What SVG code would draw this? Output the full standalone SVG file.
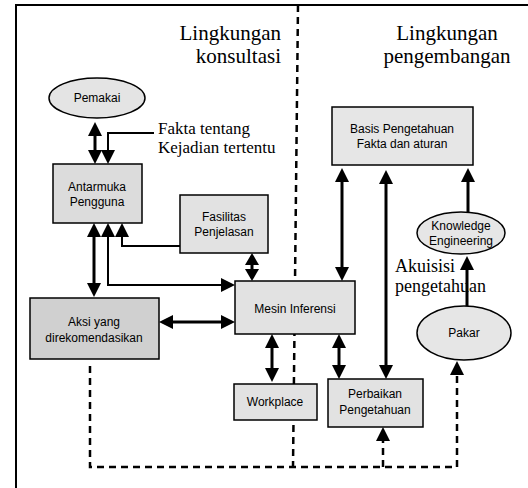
<svg xmlns="http://www.w3.org/2000/svg" width="528" height="488" viewBox="0 0 528 488">
<defs>
<marker id="ah" markerUnits="userSpaceOnUse" markerWidth="14" markerHeight="14" refX="10" refY="7" orient="auto-start-reverse"><path d="M0,0 L14,7 L0,14 z" fill="#000"/></marker>
<marker id="ahs" markerUnits="userSpaceOnUse" markerWidth="12" markerHeight="14" refX="9" refY="7" orient="auto-start-reverse"><path d="M0,0 L12,7 L0,14 z" fill="#000"/></marker>
<style>
.box{stroke:#000;stroke-width:1.5}
.lbl{font-family:"Liberation Sans",Arial,sans-serif;font-size:12px;text-anchor:middle;fill:#000}
.ser{font-family:"Liberation Serif","Times New Roman",serif;fill:#000}
.thick{fill:none;stroke:#000;stroke-width:3}
.thin{fill:none;stroke:#000;stroke-width:2}
.dash{fill:none;stroke:#000;stroke-width:2.5;stroke-dasharray:7 5}
</style>
</defs>
<rect width="528" height="488" fill="#fff"/>
<path d="M16,488 V5 H528" fill="none" stroke="#000" stroke-width="2"/>
<g id="divider"><path class="dash" d="M298,5 L293,467" stroke-width="3" stroke-dasharray="6 5"/></g>
<g id="headings">
<text class="ser" x="281" y="40" font-size="21" text-anchor="end">Lingkungan</text>
<text class="ser" x="281" y="63" font-size="21" text-anchor="end">konsultasi</text>
<text class="ser" x="447" y="40" font-size="21" text-anchor="middle">Lingkungan</text>
<text class="ser" x="447" y="63" font-size="21" text-anchor="middle">pengembangan</text>
</g>
<g id="connectors">
<path class="thick" d="M95,126 V160" marker-start="url(#ah)" marker-end="url(#ah)"/>
<path class="thin" d="M154,133 H108 V160" marker-end="url(#ah)"/>
<path class="thin" d="M180,246 H122 V227" marker-end="url(#ah)"/>
<path class="thick" d="M94,227 V293" marker-start="url(#ah)" marker-end="url(#ah)"/>
<path class="thin" d="M108,227 V285 H231" marker-start="url(#ah)" marker-end="url(#ah)"/>
<path class="thick" d="M252,256 V278" marker-start="url(#ahs)" marker-end="url(#ahs)"/>
<path class="thick" d="M163,322 H231" marker-start="url(#ah)" marker-end="url(#ah)"/>
<path class="thick" d="M342,172 V277" marker-start="url(#ah)" marker-end="url(#ah)"/>
<path class="thick" d="M386,174 V375" marker-start="url(#ah)" marker-end="url(#ah)"/>
<path class="thick" d="M468,212 V172" marker-end="url(#ah)"/>
<path class="thick" d="M467,306 V260" marker-end="url(#ah)"/>
<path class="thick" d="M272,338 V378" marker-start="url(#ah)" marker-end="url(#ah)"/>
<path class="thick" d="M339,338 V375" marker-start="url(#ah)" marker-end="url(#ah)"/>
<path class="dash" d="M90,366 V467 H457 V365" marker-end="url(#ah)"/>
<path class="dash" d="M383,467 V431" marker-end="url(#ah)"/>
</g>
<g id="pemakai"><ellipse class="box" cx="97" cy="98" rx="48" ry="20" fill="#e4e4e4"/><text class="lbl" x="97" y="102">Pemakai</text></g>
<g id="fakta"><text class="ser" x="158" y="134" font-size="17">Fakta tentang</text><text class="ser" x="158" y="153" font-size="17">Kejadian tertentu</text></g>
<g id="antarmuka"><rect class="box" x="53" y="164" width="89" height="59" fill="#dcdcdc"/><text class="lbl" x="97" y="191">Antarmuka</text><text class="lbl" x="97" y="206">Pengguna</text></g>
<g id="fasilitas"><rect class="box" x="180" y="195" width="88" height="58" fill="#e2e2e2"/><text class="lbl" x="224" y="221">Fasilitas</text><text class="lbl" x="224" y="236">Penjelasan</text></g>
<g id="basis"><rect class="box" x="332" y="107" width="141" height="58" fill="#e6e6e6"/><text class="lbl" x="402" y="133">Basis Pengetahuan</text><text class="lbl" x="402" y="148">Fakta dan aturan</text></g>
<g id="ke"><ellipse class="box" cx="461" cy="233" rx="44" ry="21" fill="#e6e6e6"/><text class="lbl" x="461" y="230">Knowledge</text><text class="lbl" x="461" y="245">Engineering</text></g>
<g id="akuisisi"><text class="ser" x="395" y="272" font-size="18">Akuisisi</text><text class="ser" x="395" y="292" font-size="18">pengetahuan</text></g>
<g id="mesin"><rect class="box" x="235" y="281" width="120" height="53" fill="#e2e2e2"/><text class="lbl" x="295" y="313">Mesin Inferensi</text></g>
<g id="aksi"><rect class="box" x="30" y="298" width="129" height="61" fill="#d0d0d0"/><text class="lbl" x="94" y="326">Aksi yang</text><text class="lbl" x="94" y="342">direkomendasikan</text></g>
<g id="pakar"><ellipse class="box" cx="464" cy="333" rx="47" ry="27" fill="#e6e6e6"/><text class="lbl" x="464" y="337">Pakar</text></g>
<g id="workplace"><rect class="box" x="234" y="384" width="83" height="36" fill="#e2e2e2"/><text class="lbl" x="275" y="406">Workplace</text></g>
<g id="perbaikan"><rect class="box" x="328" y="379" width="95" height="48" fill="#e2e2e2"/><text class="lbl" x="375" y="398">Perbaikan</text><text class="lbl" x="375" y="414">Pengetahuan</text></g>
</svg>
